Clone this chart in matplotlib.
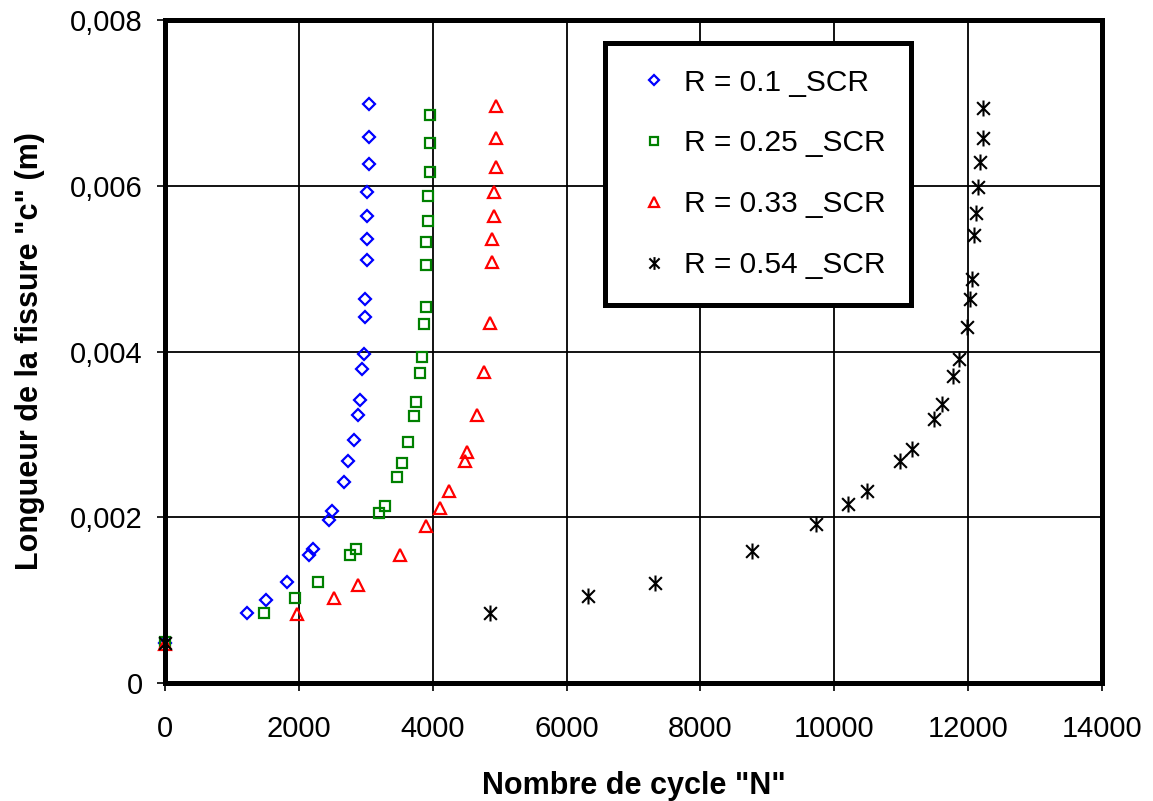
import matplotlib
matplotlib.use("Agg")
import matplotlib.pyplot as plt
from matplotlib.path import Path
from matplotlib.ticker import FuncFormatter

plt.rcParams['font.family'] = ['Liberation Sans', 'DejaVu Sans']

# R = 0.1 _SCR
n_r01 = [0, 1218, 1506, 1825, 2149, 2209, 2443, 2502, 2672, 2737, 2821, 2881, 2911,
         2936, 2966, 2995, 2995, 3025, 3025, 3025, 3025, 3055, 3055, 3055]
c_r01 = [0.00048, 0.00084, 0.00100, 0.00122, 0.00154, 0.00162, 0.00197, 0.00207, 0.00242,
         0.00268, 0.00293, 0.00324, 0.00341, 0.00379, 0.00397, 0.00442, 0.00463, 0.00511,
         0.00536, 0.00564, 0.00593, 0.00626, 0.00659, 0.00699]

# R = 0.25 _SCR
n_r025 = [0, 1476, 1945, 2293, 2761, 2856, 3200, 3290, 3463, 3548, 3633, 3723, 3753,
          3807, 3837, 3867, 3897, 3897, 3897, 3927, 3927, 3956, 3956, 3956]
c_r025 = [0.00050, 0.00084, 0.00103, 0.00122, 0.00155, 0.00162, 0.00205, 0.00214, 0.00249,
          0.00266, 0.00291, 0.00322, 0.00339, 0.00374, 0.00393, 0.00433, 0.00454, 0.00504,
          0.00532, 0.00558, 0.00588, 0.00617, 0.00652, 0.00685]

# R = 0.33 _SCR
n_r033 = [0, 1969, 2528, 2881, 3518, 3897, 4106, 4250, 4479, 4509, 4658, 4773, 4858,
          4888, 4888, 4918, 4918, 4948, 4948, 4948]
c_r033 = [0.00047, 0.00083, 0.00102, 0.00118, 0.00154, 0.00189, 0.00211, 0.00232, 0.00268,
          0.00279, 0.00324, 0.00375, 0.00434, 0.00508, 0.00536, 0.00564, 0.00592, 0.00623,
          0.00658, 0.00696]

# R = 0.54 _SCR
n_r054 = [0, 4863, 6322, 7318, 8773, 9733, 10203, 10491, 10988, 11168, 11486, 11611,
          11776, 11865, 11985, 12034, 12064, 12094, 12124, 12154, 12184, 12218, 12218]
c_r054 = [0.00048, 0.00084, 0.00105, 0.00121, 0.00159, 0.00192, 0.00216, 0.00232, 0.00268,
          0.00282, 0.00319, 0.00337, 0.00371, 0.00391, 0.00430, 0.00463, 0.00487, 0.00541,
          0.00567, 0.00598, 0.00629, 0.00658, 0.00694]

labels = ["R = 0.1 _SCR", "R = 0.25 _SCR", "R = 0.33 _SCR", "R = 0.54 _SCR"]

# asterisk marker like excel (x plus vertical bar)
star = Path([(-1, -1), (1, 1), (-1, 1), (1, -1), (0, -1.25), (0, 1.25)],
            [Path.MOVETO, Path.LINETO, Path.MOVETO, Path.LINETO, Path.MOVETO, Path.LINETO])

fig = plt.figure(figsize=(11.53, 8.01), dpi=100)
ax = fig.add_axes([0.1431, 0.1473, 0.8127, 0.8277])

ax.plot(n_r01, c_r01, linestyle='none', marker='D', markersize=6.3, mfc='none',
        mec='#0000ff', mew=1.6, label=labels[0], clip_on=False)
ax.plot(n_r025, c_r025, linestyle='none', marker='s', markersize=7.5, mfc='none',
        mec='#008000', mew=1.6, label=labels[1], clip_on=False)
ax.plot(n_r033, c_r033, linestyle='none', marker='^', markersize=9, mfc='none',
        mec='#ff0000', mew=1.6, label=labels[2], clip_on=False)
ax.plot(n_r054, c_r054, linestyle='none', marker=star, markersize=11.5, mfc='none',
        mec='black', mew=1.5, label=labels[3], clip_on=False)

ax.set_xlim(0, 14000)
ax.set_ylim(0, 0.008)
ax.set_xticks(range(0, 14001, 2000))
ax.set_yticks([0, 0.002, 0.004, 0.006, 0.008])
ax.yaxis.set_major_formatter(FuncFormatter(lambda v, p: "0" if v == 0 else ("%.3f" % v).replace(".", ",")))

ax.grid(True, color='black', linewidth=1.3)
ax.set_axisbelow(True)
for s in ax.spines.values():
    s.set_linewidth(3.6)
ax.tick_params(axis='both', direction='out', length=6, width=1.2, labelsize=21)
ax.tick_params(axis='x', pad=17)
ax.tick_params(axis='y', pad=10)

ax.set_xlabel('Nombre de cycle "N"', fontsize=22, fontweight='bold', labelpad=20)
ax.set_ylabel('Longueur de la fissure "c" (m)', fontsize=22, fontweight='bold', labelpad=18)

leg = ax.legend(loc='upper left', bbox_to_anchor=(0.4696, 0.965), fontsize=21.5,
                frameon=True, fancybox=False, edgecolor='black', framealpha=1,
                borderpad=0.85, labelspacing=1.1, handlelength=1.6, handletextpad=0.2,
                borderaxespad=0, markerscale=0.8)
leg.get_frame().set_linewidth(3.6)

fig.savefig("out.png", dpi=100)
